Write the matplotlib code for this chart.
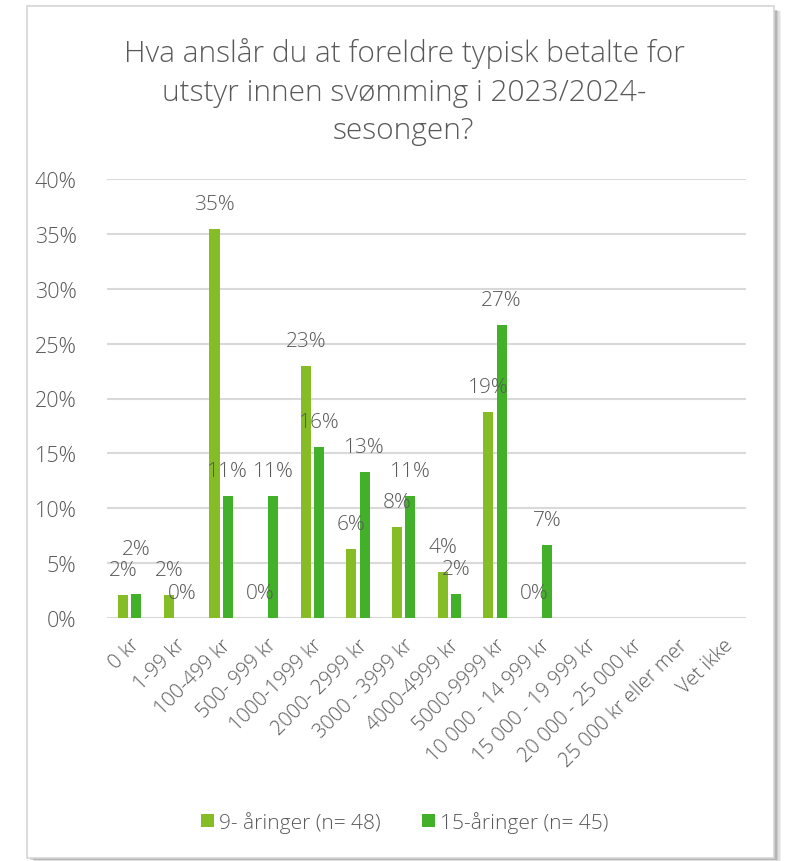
import matplotlib
matplotlib.use("Agg")
import matplotlib.pyplot as plt
from matplotlib.patches import Rectangle
import numpy as np

plt.rcParams['font.family'] = ['Open Sans', 'DejaVu Sans']

categories = ['0 kr', '1-99 kr', '100-499 kr', '500- 999 kr', '1000-1999 kr',
              '2000- 2999 kr', '3000 - 3999 kr', '4000-4999 kr', '5000-9999 kr',
              '10 000 - 14 999 kr', '15 000 - 19 999 kr', '20 000 - 25 000 kr',
              '25 000 kr eller mer', 'Vet ikke']
# share of respondents (%), None = no answer shown
nine_year = [2.08, 2.08, 35.42, 0, 22.92, 6.25, 8.33, 4.17, 18.75, 0, None, None, None, None]
fifteen_year = [2.22, 0, 11.11, 11.11, 15.56, 13.33, 11.11, 2.22, 26.67, 6.67, None, None, None, None]
series_names = ['9- åringer (n= 48)', '15-åringer (n= 45)']
series_colors = ['#86BC25', '#43B02A']
title = 'Hva anslår du at foreldre typisk betalte for\nutstyr innen svømming i 2023/2024-\nsesongen?'

text_col = '#595959'

fig = plt.figure(figsize=(7.87, 8.62), dpi=100)
W, H = 787, 862

# chart frame with a soft shadow on the right / bottom
for i, a in enumerate([0.10, 0.14, 0.18, 0.22]):
    d = 7 - i * 1.5
    fig.patches.append(Rectangle(((27 + d) / W, 1 - (860 + d * 0.3) / H), 747 / W, 850 / H,
                                 transform=fig.transFigure, facecolor='black', alpha=a * 0.5,
                                 edgecolor='none', zorder=0))
fig.patches.append(Rectangle((27 / W, 1 - 859 / H), 747 / W, 852 / H,
                             transform=fig.transFigure, facecolor='white',
                             edgecolor='#D6D6D6', linewidth=1.2, zorder=1))

ax = fig.add_axes([107 / W, 1 - 619 / H, (746 - 107) / W, (619 - 180) / H])
ax.set_zorder(2)
ax.patch.set_alpha(0)

x = np.arange(len(categories))
w = 0.22
off = 0.145
# extra lift (points) for labels that would collide
nudge = {(1, 0): 14}
for si, (vals, name, col, dx) in enumerate([(nine_year, series_names[0], series_colors[0], -off),
                                            (fifteen_year, series_names[1], series_colors[1], off)]):
    v = np.array([np.nan if a is None else a for a in vals], dtype=float)
    ax.bar(x + dx, v, width=w, color=col, label=name, zorder=3)
    for ci, (xi, yi) in enumerate(zip(x + dx, v)):
        if np.isnan(yi):
            continue
        ax.annotate(f'{yi:.0f}%', (xi, yi), xytext=(0, 18 + nudge.get((si, ci), 0)),
                    textcoords='offset points', ha='center', va='center', fontsize=15,
                    color=text_col, fontweight='light', zorder=4)

ax.set_xlim(-0.5, len(categories) - 0.5)
ax.set_ylim(0, 40)
ax.set_yticks(np.arange(0, 41, 5))
ax.set_yticklabels([f'{t}%' for t in range(0, 41, 5)], fontsize=15.5, color=text_col,
                   fontweight='light')
ax.set_xticks(x)
ax.set_xticklabels(categories, rotation=45, ha='right', rotation_mode='anchor',
                   fontsize=14.5, color=text_col, fontweight='light')
ax.tick_params(axis='both', length=0)
ax.tick_params(axis='y', pad=22)
ax.tick_params(axis='x', pad=12)
ax.grid(axis='y', color='#D9D9D9', linewidth=1.5, zorder=0)
for s in ax.spines.values():
    s.set_visible(False)

fig.text(404 / W, 1 - 92 / H, title, ha='center', va='center', fontsize=21.5,
         color=text_col, fontweight='light', linespacing=1.4, zorder=5)

leg = fig.legend(loc='center', bbox_to_anchor=(405 / W, 1 - 823 / H), ncol=2,
                 frameon=False, fontsize=15, handlelength=0.6, handleheight=0.6,
                 handletextpad=0.25, columnspacing=2.0)
for t in leg.get_texts():
    t.set_color(text_col)
    t.set_fontweight('light')

fig.savefig('out.png', dpi=100)
